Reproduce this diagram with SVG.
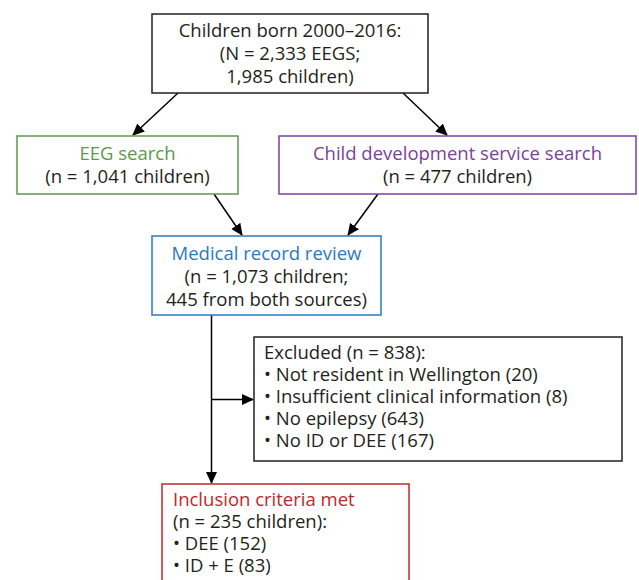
<svg xmlns="http://www.w3.org/2000/svg" width="639" height="580" viewBox="0 0 639 580">
<style>
text{font-family:"Open Sans","Noto Sans",sans-serif;font-size:18.5px;fill:#231f20}
.box{fill:#fff;stroke-width:1.5}
.c{text-anchor:middle}
.line{stroke:#000;stroke-width:1.5;fill:none}
</style>
<defs>
<marker id="ah" viewBox="0 0 12 12" refX="11" refY="6" markerWidth="12" markerHeight="12" markerUnits="userSpaceOnUse" orient="auto">
<path d="M0,0.5 L12,6 L0,11.5 z" fill="#000"/>
</marker>
</defs>
<rect width="639" height="580" fill="#fff"/>
<g id="connectors">
<line class="line" x1="178" y1="93" x2="133" y2="135" marker-end="url(#ah)"/>
<line class="line" x1="403" y1="93" x2="447" y2="135" marker-end="url(#ah)"/>
<line class="line" x1="214" y1="194" x2="242" y2="235" marker-end="url(#ah)"/>
<line class="line" x1="378" y1="194" x2="348" y2="235" marker-end="url(#ah)"/>
<line class="line" x1="211.5" y1="315" x2="211.5" y2="483" marker-end="url(#ah)"/>
<line class="line" x1="211.5" y1="399.5" x2="253" y2="399.5" marker-end="url(#ah)"/>
</g>
<g id="start">
<rect class="box" x="152" y="14" width="276" height="79" stroke="#231f20"/>
<text class="c" x="290" y="37">Children born 2000–2016:</text>
<text class="c" x="290" y="60">(N = 2,333 EEGS;</text>
<text class="c" x="290" y="83">1,985 children)</text>
</g>
<g id="eeg">
<rect class="box" x="17" y="136" width="221" height="58" stroke="#5b9a4c"/>
<text class="c" x="127.5" y="160" style="fill:#5b9a4c">EEG search</text>
<text class="c" x="127.5" y="183">(n = 1,041 children)</text>
</g>
<g id="cds">
<rect class="box" x="279" y="136" width="357" height="58" stroke="#7b3f9e"/>
<text class="c" x="457.5" y="160" style="fill:#7b3f9e">Child development service search</text>
<text class="c" x="457.5" y="183">(n = 477 children)</text>
</g>
<g id="review">
<rect class="box" x="152" y="236" width="229" height="79" stroke="#2a7abf"/>
<text class="c" x="266.5" y="260" style="fill:#2a7abf">Medical record review</text>
<text class="c" x="266.5" y="283">(n = 1,073 children;</text>
<text class="c" x="266.5" y="306">445 from both sources)</text>
</g>
<g id="excluded">
<rect class="box" x="254" y="337" width="368" height="124" stroke="#231f20"/>
<text x="264" y="359">Excluded (n = 838):</text>
<text x="264" y="381">• Not resident in Wellington (20)</text>
<text x="264" y="403">• Insufficient clinical information (8)</text>
<text x="264" y="425">• No epilepsy (643)</text>
<text x="264" y="447">• No ID or DEE (167)</text>
</g>
<g id="included">
<rect class="box" x="162" y="484" width="247" height="110" stroke="#c0272d"/>
<text x="173" y="506" style="fill:#c0272d">Inclusion criteria met</text>
<text x="173" y="528">(n = 235 children):</text>
<text x="173" y="550">• DEE (152)</text>
<text x="173" y="572">• ID + E (83)</text>
</g>
</svg>
